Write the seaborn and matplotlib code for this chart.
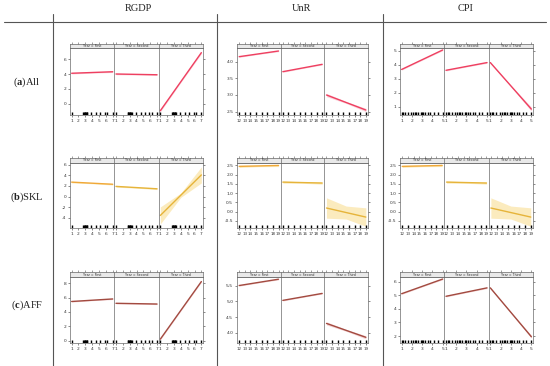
import numpy as np
import pandas as pd
import matplotlib
matplotlib.use("Agg")
import matplotlib.pyplot as plt
from matplotlib.lines import Line2D
import seaborn as sns

sns.set_theme(style="white")
plt.rcParams['font.family'] = ['DejaVu Sans']
plt.rcParams['mathtext.fontset'] = 'custom'
plt.rcParams['mathtext.rm'] = 'Liberation Serif'
plt.rcParams['mathtext.bf'] = 'Liberation Serif:bold'

# ---------------- data ----------------
years = ["First", "Second", "Third"]
col_names = ["RGDP", "UnR", "CPI"]
row_letters = ["a", "b", "c"]
row_names = ["All", "SKL", "AFF"]

rgdp_x = [1, 7]
unr_x = [12, 19]
cpi_x = [1, 5]
rgdp_ticks = [1, 2, 3, 4, 5, 6, 7]
unr_ticks = [12, 13, 14, 15, 16, 17, 18, 19]
cpi_ticks = [1, 2, 3, 4, 5]

rgdp_rug = [1, 2.7, 2.8, 2.9, 3.0, 3.1, 3.2, 3.3, 3.9, 4.6, 5.2, 5.9, 6.2, 7]
unr_rug = [12, 13, 14, 15, 16, 17, 18, 19]
cpi_rug = [1, 1.15, 1.3, 1.6, 1.9, 2.1, 2.3, 2.4, 2.6, 2.9, 3.0, 3.1, 3.3,
           3.6, 3.8, 4.2, 4.5, 5]

# fitted line end values per facet: [left, right] for First, Second, Third
a_rgdp = [[4.1, 4.3], [4.0, 3.9], [-0.9, 6.85]]
a_unr = [[4.15, 4.32], [3.7, 3.92], [3.0, 2.55]]
a_cpi = [[3.66, 5.05], [3.6, 4.15], [4.15, 0.83]]
b_rgdp = [[2.7, 2.3], [1.9, 1.45], [-3.55, 4.05]]
b_unr = [[2.45, 2.5], [1.6, 1.55], [0.2, -0.29]]
b_cpi = [[2.45, 2.5], [1.6, 1.55], [0.2, -0.29]]
c_rgdp = [[5.45, 5.8], [5.2, 5.1], [0.25, 8.2]]
c_unr = [[5.5, 5.7], [5.03, 5.25], [4.3, 3.86]]
c_cpi = [[5.12, 6.2], [4.93, 5.55], [5.55, 1.95]]

# confidence band half widths (left, middle, right) per facet
a_rgdp_ci = [[0.1, 0.08, 0.1], [0.1, 0.08, 0.1], [0.15, 0.1, 0.15]]
a_unr_ci = [[0.02, 0.015, 0.02], [0.02, 0.015, 0.02], [0.05, 0.03, 0.05]]
a_cpi_ci = [[0.05, 0.04, 0.05], [0.05, 0.04, 0.05], [0.06, 0.05, 0.15]]
b_rgdp_ci = [[0.15, 0.1, 0.15], [0.15, 0.1, 0.15], [1.6, 0.4, 1.5]]
b_unr_ci = [[0.06, 0.04, 0.06], [0.06, 0.04, 0.06], [0.55, 0.35, 0.5]]
b_cpi_ci = [[0.06, 0.04, 0.06], [0.06, 0.04, 0.06], [0.55, 0.35, 0.5]]
c_rgdp_ci = [[0.08, 0.06, 0.08], [0.08, 0.06, 0.08], [0.1, 0.08, 0.1]]
c_unr_ci = [[0.02, 0.015, 0.02], [0.02, 0.015, 0.02], [0.05, 0.03, 0.05]]
c_cpi_ci = [[0.05, 0.04, 0.05], [0.05, 0.04, 0.05], [0.06, 0.05, 0.1]]

# y axes
a_rgdp_yt = [0, 2, 4, 6]
a_unr_yt = [2.5, 3.0, 3.5, 4.0]
a_cpi_yt = [1, 2, 3, 4, 5]
b_rgdp_yt = [-4, -2, 0, 2, 4, 6]
b_unr_yt = [-0.5, 0.0, 0.5, 1.0, 1.5, 2.0, 2.5]
b_cpi_yt = [-0.5, 0.0, 0.5, 1.0, 1.5, 2.0, 2.5]
c_rgdp_yt = [0, 2, 4, 6, 8]
c_unr_yt = [4.0, 4.5, 5.0, 5.5]
c_cpi_yt = [2, 3, 4, 5, 6]

# ---------------- layout / style ----------------
W, H = 550, 366
fig = plt.figure(figsize=(5.5, 3.66), dpi=100)

col_px = [(70, 203), (237, 368), (400, 533)]
row_px = [(43.5, 48, 115), (157.5, 162.5, 228), (272, 277, 343)]
ylims = {
    (0, 0): (-1.47, 7.47), (0, 1): (2.40, 4.41), (0, 2): (0.41, 5.19),
    (1, 0): (-5.9, 6.38), (1, 1): (-0.88, 2.66), (1, 2): (-0.88, 2.66),
    (2, 0): (-0.28, 8.83), (2, 1): (3.68, 5.77), (2, 2): (1.49, 6.35),
}
row_line = ["#ee3f60", "#e6b43a", "#a24a40"]
row_line_first = ["#ee3f60", "#f0a838", "#a24a40"]
row_band = ["#fbc9d3", "#fbe6ae", "#f3c9c9"]

lines = [[a_rgdp, a_unr, a_cpi], [b_rgdp, b_unr, b_cpi], [c_rgdp, c_unr, c_cpi]]
cis = [[a_rgdp_ci, a_unr_ci, a_cpi_ci], [b_rgdp_ci, b_unr_ci, b_cpi_ci],
       [c_rgdp_ci, c_unr_ci, c_cpi_ci]]
yticks = [[a_rgdp_yt, a_unr_yt, a_cpi_yt], [b_rgdp_yt, b_unr_yt, b_cpi_yt],
          [c_rgdp_yt, c_unr_yt, c_cpi_yt]]

# (x range, ticks, rug, rug line width, rug height, x padding, tick font size)
xinfo = {"RGDP": (rgdp_x, rgdp_ticks, rgdp_rug, 0.5, 0.05, 0.04, 3.2),
         "UnR": (unr_x, unr_ticks, unr_rug, 3.0, 0.045, 0.055, 2.9),
         "CPI": (cpi_x, cpi_ticks, cpi_rug, 0.5, 0.05, 0.04, 3.2)}
cell_xkind = [["RGDP", "UnR", "CPI"], ["RGDP", "UnR", "UnR"], ["RGDP", "UnR", "CPI"]]


def px_axes(x0, y0, x1, y1):
    return fig.add_axes([x0 / W, 1 - y1 / H, (x1 - x0) / W, (y1 - y0) / H])


spine_col = "#6a6a6a"
for r in range(3):
    s_top, p_top, p_bot = row_px[r]
    for c in range(3):
        cx0, cx1 = col_px[c]
        fw = (cx1 - cx0) / 3
        xr, xt, rug, rug_lw, rug_h, pad, xfs = xinfo[cell_xkind[r][c]]
        span = xr[1] - xr[0]
        xlim = (xr[0] - pad * span, xr[1] + pad * span)
        for i in range(3):
            fx0 = cx0 + i * fw
            fx1 = fx0 + fw
            ax = px_axes(fx0, p_top, fx1, p_bot)
            yl, yr = lines[r][c][i]
            ci = cis[r][c][i]
            xs = [xr[0], (xr[0] + xr[1]) / 2, xr[1]]
            ys = [yl, (yl + yr) / 2, yr]
            ax.fill_between(xs, [y - h for y, h in zip(ys, ci)],
                            [y + h for y, h in zip(ys, ci)],
                            color=row_band[r], lw=0, alpha=0.8)
            col = row_line_first[r] if i == 0 else row_line[r]
            sns.lineplot(x=[xr[0], xr[1]], y=[yl, yr], ax=ax, color=col, lw=1.0)
            sns.rugplot(x=rug, ax=ax, height=rug_h, color="black", lw=rug_lw,
                        expand_margins=False)
            ax.set_xlim(*xlim)
            ax.set_ylim(*ylims[(r, c)])
            ax.set_xticks(xt)
            ax.set_xticklabels([str(t) for t in xt])
            yt = yticks[r][c]
            ax.set_yticks(yt)
            if all(float(t).is_integer() for t in yt):
                ax.set_yticklabels([str(int(t)) for t in yt])
            else:
                ax.set_yticklabels([f"{t:.1f}" for t in yt])
            ax.set_xlabel("")
            ax.set_ylabel("")
            ax.tick_params(axis="both", direction="out", length=1.5, width=0.4,
                           labelsize=3.2, pad=1.2, colors="#333333")
            ax.tick_params(axis="x", bottom=True, labelsize=xfs)
            ax.tick_params(axis="y", left=(i == 0), labelleft=(i == 0),
                           right=(i == 2), labelright=False)
            for sp in ax.spines.values():
                sp.set_color(spine_col)
                sp.set_linewidth(0.5)
            ax.set_facecolor("white")
            # strip
            st = px_axes(fx0, s_top, fx1, p_top)
            st.set_facecolor("#e9e9e9")
            st.set_xlim(*xlim)
            st.set_yticks([])
            st.set_xticks(xt)
            st.tick_params(axis="x", top=True, bottom=False, labelbottom=False,
                           direction="out", length=1.2, width=0.4, colors="#555555")
            for sp in st.spines.values():
                sp.set_color(spine_col)
                sp.set_linewidth(0.5)
            st.text(0.5, 0.45, f"Year = {years[i]}", transform=st.transAxes,
                    ha="center", va="center", fontsize=2.3, color="#333333")

# table lines
line_col = "#555555"
fig.add_artist(Line2D([4 / W, 546 / W], [1 - 22 / H, 1 - 22 / H],
                      transform=fig.transFigure, color=line_col, lw=0.8))
for xv in [53, 217, 383]:
    fig.add_artist(Line2D([xv / W, xv / W], [1 - 14 / H, 0],
                          transform=fig.transFigure, color=line_col, lw=0.8))

header_x = [138, 302, 466]
for name, hx in zip(col_names, header_x):
    fig.text(hx / W, 1 - 8.5 / H, name, ha="center", va="center",
             family="Liberation Serif", fontsize=7.5, color="#222222")

row_y = [82, 197, 305]
for let, nm, ry in zip(row_letters, row_names, row_y):
    fig.text(27 / W, 1 - ry / H, r"($\mathbf{" + let + r"}$)" + nm,
             ha="center", va="center", family="Liberation Serif",
             fontsize=7.5, color="#222222")

fig.savefig("out.png", dpi=100)
